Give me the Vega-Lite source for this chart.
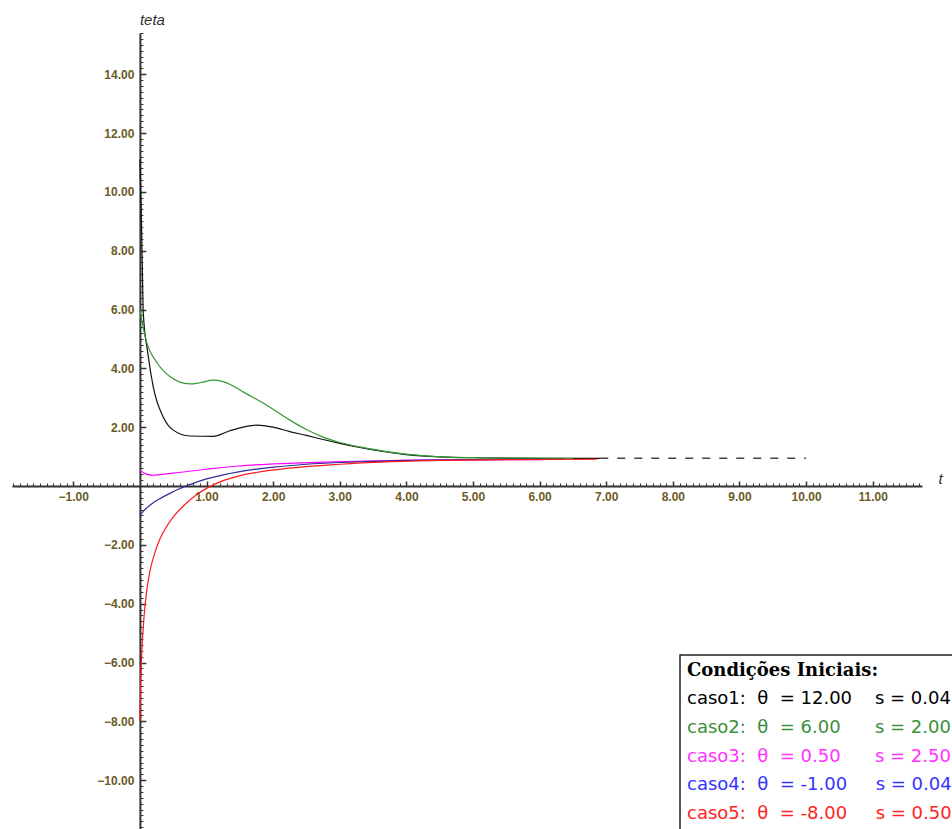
{
  "$schema": "https://vega.github.io/schema/vega-lite/v6.json",
  "autosize": {"type": "none"},
  "width": 910,
  "height": 796,
  "padding": {"left": 12, "top": 33, "right": 30, "bottom": 0},
  "background": "white",
  "config": {"view": {"stroke": null}, "axis": {"grid": false}},
  "datasets": {
    "curves": [
      {"caso": "caso1", "t": 0, "v": 11.1},
      {"caso": "caso1", "t": 0.02, "v": 9.4},
      {"caso": "caso1", "t": 0.035, "v": 7.6},
      {"caso": "caso1", "t": 0.05, "v": 5.9},
      {"caso": "caso1", "t": 0.12, "v": 4.5},
      {"caso": "caso1", "t": 0.2, "v": 3.37},
      {"caso": "caso1", "t": 0.35, "v": 2.35},
      {"caso": "caso1", "t": 0.5, "v": 1.9},
      {"caso": "caso1", "t": 0.75, "v": 1.7},
      {"caso": "caso1", "t": 1.1, "v": 1.69},
      {"caso": "caso1", "t": 1.35, "v": 1.88},
      {"caso": "caso1", "t": 1.76, "v": 2.07},
      {"caso": "caso1", "t": 2.0, "v": 2.0},
      {"caso": "caso1", "t": 2.25, "v": 1.85},
      {"caso": "caso1", "t": 2.5, "v": 1.72},
      {"caso": "caso1", "t": 2.75, "v": 1.58},
      {"caso": "caso1", "t": 3.0, "v": 1.45},
      {"caso": "caso1", "t": 3.3, "v": 1.31},
      {"caso": "caso1", "t": 3.6, "v": 1.19},
      {"caso": "caso1", "t": 4.0, "v": 1.07},
      {"caso": "caso1", "t": 4.5, "v": 0.99},
      {"caso": "caso1", "t": 5.0, "v": 0.96},
      {"caso": "caso1", "t": 6.0, "v": 0.94},
      {"caso": "caso1", "t": 6.91, "v": 0.94},
      {"caso": "caso2", "t": 0, "v": 6.0},
      {"caso": "caso2", "t": 0.08, "v": 5.06},
      {"caso": "caso2", "t": 0.26, "v": 4.18},
      {"caso": "caso2", "t": 0.45, "v": 3.72},
      {"caso": "caso2", "t": 0.6, "v": 3.53},
      {"caso": "caso2", "t": 0.75, "v": 3.47},
      {"caso": "caso2", "t": 0.9, "v": 3.51},
      {"caso": "caso2", "t": 1.1, "v": 3.6},
      {"caso": "caso2", "t": 1.25, "v": 3.55},
      {"caso": "caso2", "t": 1.4, "v": 3.4},
      {"caso": "caso2", "t": 1.55, "v": 3.2},
      {"caso": "caso2", "t": 1.85, "v": 2.82},
      {"caso": "caso2", "t": 2.25, "v": 2.24},
      {"caso": "caso2", "t": 2.5, "v": 1.92},
      {"caso": "caso2", "t": 2.75, "v": 1.66},
      {"caso": "caso2", "t": 3.0, "v": 1.48},
      {"caso": "caso2", "t": 3.3, "v": 1.33},
      {"caso": "caso2", "t": 3.6, "v": 1.21},
      {"caso": "caso2", "t": 3.9, "v": 1.11},
      {"caso": "caso2", "t": 4.25, "v": 1.03},
      {"caso": "caso2", "t": 4.63, "v": 0.98},
      {"caso": "caso2", "t": 5.5, "v": 0.95},
      {"caso": "caso2", "t": 6.5, "v": 0.94},
      {"caso": "caso3", "t": 0, "v": 0.54},
      {"caso": "caso3", "t": 0.08, "v": 0.42},
      {"caso": "caso3", "t": 0.18, "v": 0.37},
      {"caso": "caso3", "t": 0.5, "v": 0.44},
      {"caso": "caso3", "t": 1.0, "v": 0.57},
      {"caso": "caso3", "t": 1.48, "v": 0.68},
      {"caso": "caso3", "t": 2.0, "v": 0.75},
      {"caso": "caso3", "t": 2.9, "v": 0.82},
      {"caso": "caso3", "t": 3.9, "v": 0.87},
      {"caso": "caso3", "t": 5.0, "v": 0.89},
      {"caso": "caso3", "t": 6.05, "v": 0.9},
      {"caso": "caso4", "t": 0, "v": -1.0},
      {"caso": "caso4", "t": 0.05, "v": -0.86},
      {"caso": "caso4", "t": 0.1, "v": -0.75},
      {"caso": "caso4", "t": 0.2, "v": -0.57},
      {"caso": "caso4", "t": 0.3, "v": -0.43},
      {"caso": "caso4", "t": 0.45, "v": -0.25},
      {"caso": "caso4", "t": 0.62, "v": -0.07},
      {"caso": "caso4", "t": 0.8, "v": 0.09},
      {"caso": "caso4", "t": 1.0, "v": 0.24},
      {"caso": "caso4", "t": 1.25, "v": 0.38},
      {"caso": "caso4", "t": 1.5, "v": 0.49},
      {"caso": "caso4", "t": 2.0, "v": 0.64},
      {"caso": "caso4", "t": 2.5, "v": 0.74},
      {"caso": "caso4", "t": 3.0, "v": 0.8},
      {"caso": "caso4", "t": 3.5, "v": 0.84},
      {"caso": "caso4", "t": 4.0, "v": 0.87},
      {"caso": "caso4", "t": 5.0, "v": 0.9},
      {"caso": "caso4", "t": 6.36, "v": 0.91},
      {"caso": "caso5", "t": 0, "v": -8.0},
      {"caso": "caso5", "t": 0.01, "v": -6.8},
      {"caso": "caso5", "t": 0.03, "v": -5.6},
      {"caso": "caso5", "t": 0.06, "v": -4.5},
      {"caso": "caso5", "t": 0.1, "v": -3.6},
      {"caso": "caso5", "t": 0.15, "v": -2.9},
      {"caso": "caso5", "t": 0.22, "v": -2.3},
      {"caso": "caso5", "t": 0.3, "v": -1.8},
      {"caso": "caso5", "t": 0.4, "v": -1.38},
      {"caso": "caso5", "t": 0.52, "v": -1.0},
      {"caso": "caso5", "t": 0.68, "v": -0.62},
      {"caso": "caso5", "t": 0.85, "v": -0.3},
      {"caso": "caso5", "t": 1.0, "v": -0.08},
      {"caso": "caso5", "t": 1.2, "v": 0.14},
      {"caso": "caso5", "t": 1.45, "v": 0.32},
      {"caso": "caso5", "t": 1.75, "v": 0.46},
      {"caso": "caso5", "t": 2.25, "v": 0.61},
      {"caso": "caso5", "t": 3.0, "v": 0.74},
      {"caso": "caso5", "t": 3.7, "v": 0.82},
      {"caso": "caso5", "t": 4.5, "v": 0.87},
      {"caso": "caso5", "t": 5.5, "v": 0.9},
      {"caso": "caso5", "t": 6.86, "v": 0.91}
    ],
    "asymptote": [{"t0": 6.91, "t1": 10.0, "v": 0.94}]
  },
  "layer": [
    {
      "data": {"name": "curves"},
      "mark": {"type": "line", "interpolate": "monotone", "strokeWidth": 1.2},
      "encoding": {
        "x": {
          "field": "t", "type": "quantitative",
          "scale": {"domain": [-1.92, 11.74], "nice": false, "zero": false},
          "axis": {
            "orient": "bottom", "offset": -343,
            "values": [-1, 1, 2, 3, 4, 5, 6, 7, 8, 9, 10, 11],
            "format": ".2f",
            "tickSize": -5, "tickWidth": 1.5, "tickColor": "#333",
            "domainColor": "#333", "domainWidth": 2,
            "labelFont": "Liberation Sans", "labelFontSize": 12, "labelFontWeight": "bold",
            "labelColor": "#6b5b1f", "labelPadding": 10, "labelFlush": false, "labelOverlap": false,
            "title": "t", "titleFont": "Liberation Sans", "titleFontStyle": "italic", "titleFontWeight": "normal",
            "titleFontSize": 15, "titleColor": "#333", "titleX": 928, "titleY": -3,
            "titleAlign": "center", "titleBaseline": "alphabetic"
          }
        },
        "y": {
          "field": "v", "type": "quantitative",
          "scale": {"domain": [-11.66, 15.4], "nice": false, "zero": false},
          "axis": {
            "orient": "left", "offset": -127.9,
            "values": [-10, -8, -6, -4, -2, 2, 4, 6, 8, 10, 12, 14],
            "format": ".2f",
            "tickSize": -6, "tickWidth": 1.5, "tickColor": "#333",
            "domainColor": "#333", "domainWidth": 2,
            "labelFont": "Liberation Sans", "labelFontSize": 12, "labelFontWeight": "bold",
            "labelColor": "#6b5b1f", "labelPadding": 12, "labelFlush": false, "labelOverlap": false,
            "title": "teta", "titleFont": "Liberation Sans", "titleFontStyle": "italic", "titleFontWeight": "normal",
            "titleFontSize": 15, "titleColor": "#333", "titleAngle": 0, "titleX": 12, "titleY": -9,
            "titleAlign": "center", "titleBaseline": "alphabetic"
          }
        },
        "color": {
          "field": "caso", "type": "nominal",
          "scale": {
            "domain": ["caso1", "caso2", "caso3", "caso4", "caso5"],
            "range": ["#111111", "#339933", "#ff00ff", "#2b2b99", "#ff1a1a"]
          },
          "legend": {
            "orient": "none", "legendX": 668, "legendY": 622,
            "title": "Condições Iniciais:",
            "titleFont": "DejaVu Serif", "titleFontWeight": "bold", "titleFontSize": 18, "titleColor": "#000",
            "titlePadding": 10, "titleLimit": 800,
            "labelFont": "DejaVu Sans", "labelFontSize": 18, "labelLimit": 600, "labelOffset": -18,
            "symbolSize": 0, "symbolOpacity": 0, "symbolStrokeWidth": 0,
            "rowPadding": 10.75, "padding": 7,
            "strokeColor": "#222", "fillColor": "white",
            "labelExpr": "{'caso1':'caso1:\u00a0\u00a0θ\u00a0\u00a0=\u00a012.00\u00a0\u00a0\u00a0\u00a0s\u00a0=\u00a00.04','caso2':'caso2:\u00a0\u00a0θ\u00a0\u00a0=\u00a06.00\u00a0\u00a0\u00a0\u00a0\u00a0\u00a0s\u00a0=\u00a02.00','caso3':'caso3:\u00a0\u00a0θ\u00a0\u00a0=\u00a00.50\u00a0\u00a0\u00a0\u00a0\u00a0\u00a0s\u00a0=\u00a02.50','caso4':'caso4:\u00a0\u00a0θ\u00a0\u00a0=\u00a0-1.00\u00a0\u00a0\u00a0\u00a0\u00a0s\u00a0=\u00a00.04','caso5':'caso5:\u00a0\u00a0θ\u00a0\u00a0=\u00a0-8.00\u00a0\u00a0\u00a0\u00a0\u00a0s\u00a0=\u00a00.50'}[datum.value]",
            "encode": {
              "labels": {"update": {"fill": {"signal": "{'caso1':'#000000','caso2':'#3a8f3a','caso3':'#ff33ff','caso4':'#3333ff','caso5':'#ff2222'}[datum.value]"}}},
              "legend": {"update": {"strokeWidth": {"value": 1.5}}}
            }
          }
        }
      }
    },
    {
      "data": {"name": "asymptote"},
      "mark": {"type": "rule", "strokeDash": [8, 9], "color": "#444", "strokeWidth": 1.5},
      "encoding": {
        "x": {
          "field": "t0", "type": "quantitative",
          "axis": {
            "orient": "bottom", "offset": -343, "tickCount": 140,
            "labels": false, "domain": false, "tickSize": -3, "tickWidth": 1, "tickColor": "#333",
            "title": null, "grid": false
          }
        },
        "x2": {"field": "t1"},
        "y": {
          "field": "v", "type": "quantitative",
          "axis": {
            "orient": "left", "offset": -127.9, "tickCount": 135,
            "labels": false, "domain": false, "tickSize": -3, "tickWidth": 1, "tickColor": "#333",
            "title": null, "grid": false
          }
        }
      }
    }
  ],
  "resolve": {"axis": {"x": "independent", "y": "independent"}}
}
